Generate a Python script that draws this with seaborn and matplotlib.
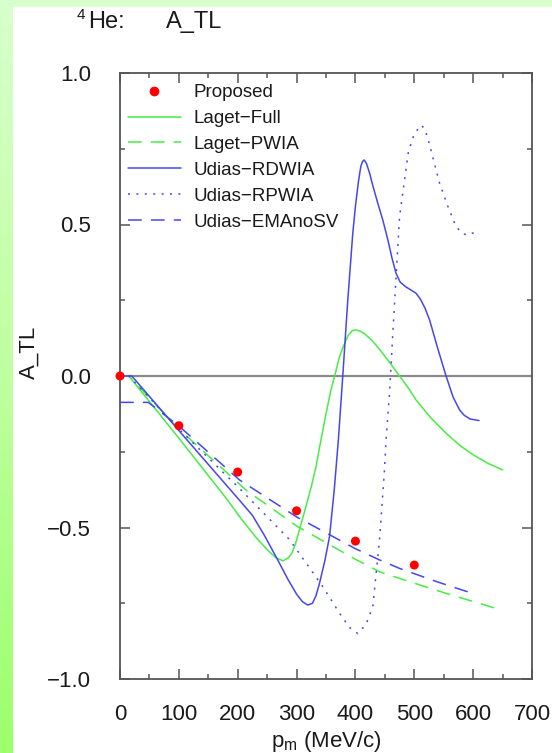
import numpy as np
import pandas as pd
import matplotlib
matplotlib.use("Agg")
import matplotlib.pyplot as plt
import seaborn as sns
from matplotlib.colors import LinearSegmentedColormap
from matplotlib.lines import Line2D

sns.set_style("white")
plt.rcParams['font.family'] = ['Liberation Sans', 'DejaVu Sans']

# ---- data ----
prop_x = [0, 100, 200, 300, 400, 500]
prop_y = [0.0, -0.164, -0.317, -0.445, -0.545, -0.624]

lfull_x = [0, 15, 100, 183, 203, 230, 250, 265, 277, 286, 292, 298, 306, 316, 325, 333,
           341, 350, 358, 366, 373, 380, 388, 395, 401, 408, 415, 428, 441, 458, 475, 490,
           503, 528, 554, 578, 600, 625, 650]
lfull_y = [0, 0, -0.205, -0.41, -0.464, -0.53, -0.573, -0.600, -0.610, -0.600, -0.585,
           -0.555, -0.50, -0.43, -0.365, -0.30, -0.215, -0.125, -0.05, 0.01, 0.064, 0.10,
           0.135, 0.15, 0.152, 0.148, 0.14, 0.118, 0.088, 0.045, 0.0, -0.04, -0.079, -0.138,
           -0.189, -0.23, -0.26, -0.288, -0.31]

lpwia_x = [0, 15, 100, 214, 300, 400, 441, 475, 550, 639, 650]
lpwia_y = [0, 0, -0.175, -0.376, -0.495, -0.605, -0.646, -0.668, -0.715, -0.767, -0.772]

rdwia_x = [0, 20, 100, 203, 225, 245, 268, 285, 300, 310, 319, 327, 333, 339, 348, 356,
           364, 371, 378.5, 387, 395.5, 400, 405, 409, 412, 415, 419, 424, 430, 438, 446.5,
           455, 462, 469, 476, 485, 495, 503, 510, 518, 526, 540, 554, 566, 577, 585, 595, 610]
rdwia_y = [0, 0, -0.18, -0.41, -0.46, -0.525, -0.607, -0.67, -0.72, -0.745, -0.756, -0.75,
           -0.725, -0.684, -0.61, -0.53, -0.376, -0.211, 0.0, 0.25, 0.471, 0.56, 0.64, 0.69,
           0.708, 0.713, 0.70, 0.67, 0.625, 0.57, 0.515, 0.45, 0.39, 0.339, 0.31, 0.295,
           0.283, 0.273, 0.255, 0.225, 0.185, 0.09, 0.0, -0.07, -0.112, -0.13, -0.142, -0.147]

rpwia_x = [0, 15, 100, 203, 288, 344.5, 373, 390, 404, 418, 429.5, 441, 449, 452, 458, 463.5,
           475, 490, 500, 511.7, 518, 525, 543, 557, 571, 582, 591, 605]
rpwia_y = [0, 0, -0.175, -0.371, -0.54, -0.695, -0.783, -0.83, -0.85, -0.82, -0.761, -0.54,
           -0.32, -0.211, -0.057, 0.141, 0.526, 0.74, 0.80, 0.828, 0.815, 0.77, 0.636, 0.56,
           0.493, 0.47, 0.465, 0.476]

ema_x = [0, 48, 100, 203, 300, 400, 441, 475, 540, 603]
ema_y = [-0.087, -0.087, -0.165, -0.343, -0.465, -0.57, -0.607, -0.635, -0.68, -0.72]

xticks = [0, 100, 200, 300, 400, 500, 600, 700]
yticks = [-1.0, -0.5, 0.0, 0.5, 1.0]
ytick_labels = ["\u22121.0", "\u22120.5", "0.0", "0.5", "1.0"]

GREEN = "#44ee44"
BLUE = "#4646ee"
TXT = "#1a1a1a"

W, H = 552, 753
fig = plt.figure(figsize=(W / 100, H / 100), dpi=100)
fig.patch.set_facecolor("white")

# background strips
top = fig.add_axes([0, 1 - 7 / H, 1, 7 / H])
top.set_axis_off()
top.add_patch(plt.Rectangle((0, 0), 1, 1, color="#d8ffcc", transform=top.transAxes))
left = fig.add_axes([0, 0, 13 / W, 1])
left.set_axis_off()
cmap = LinearSegmentedColormap.from_list("g", ["#d8ffcc", "#bfff9f", "#9cff6c"])
grad = np.linspace(0, 1, 256).reshape(-1, 1)
left.imshow(grad, aspect="auto", cmap=cmap, extent=[0, 1, 0, 1], origin="upper")

ax = fig.add_axes([120 / W, 1 - 679 / H, 412 / W, 606 / H])
ax.set_facecolor("white")

ax.axhline(0, color="#8a8a8a", lw=1.6, zorder=1)

series = [
    ("Laget\u2212Full", lfull_x, lfull_y, GREEN, "-"),
    ("Laget\u2212PWIA", lpwia_x, lpwia_y, GREEN, (0, (9, 6))),
    ("Udias\u2212RDWIA", rdwia_x, rdwia_y, BLUE, "-"),
    ("Udias\u2212RPWIA", rpwia_x, rpwia_y, BLUE, (0, (1.3, 4.2))),
    ("Udias\u2212EMAnoSV", ema_x, ema_y, BLUE, (0, (9, 6))),
]

handles = [Line2D([], [], color="red", marker="o", linestyle="none", markersize=6)]
labels = ["Proposed"]
for name, xs, ys, col, ls in series:
    df = pd.DataFrame({"x": xs, "y": ys})
    n0 = len(ax.lines)
    sns.lineplot(data=df, x="x", y="y", ax=ax, color=col, lw=1.1, sort=False,
                 estimator=None, legend=False, zorder=3)
    ax.lines[n0].set_linestyle(ls)
    handles.append(Line2D([], [], color=col, lw=1.1, linestyle=ls))
    labels.append(name)

pdf = pd.DataFrame({"x": prop_x, "y": prop_y})
sns.scatterplot(data=pdf, x="x", y="y", ax=ax, color="red", s=42, edgecolor="none",
                zorder=5, clip_on=False, legend=False)

ax.set_xlim(0, 700)
ax.set_ylim(-1.0, 1.0)
ax.set_xticks(xticks)
ax.set_xticklabels([str(t) for t in xticks])
ax.set_yticks(yticks)
ax.set_yticklabels(ytick_labels)
ax.set_xticks(np.arange(50, 700, 100), minor=True)
ax.set_yticks([-0.75, -0.25, 0.25, 0.75], minor=True)

for s in ax.spines.values():
    s.set_color("#555555")
    s.set_linewidth(1.3)
    s.set_visible(True)

ax.tick_params(which="both", direction="in", top=True, right=True, bottom=True, left=True,
               color="#555555", width=1.1, labelsize=16, labelcolor=TXT)
ax.tick_params(which="major", length=7, pad=18)
ax.tick_params(which="minor", length=3.6)
ax.tick_params(axis="y", which="major", pad=21)

ax.set_xlabel("")
ax.set_ylabel("")

fig.text(326 / W, 1 - 741 / H, r"$\mathregular{p_m}$ (MeV/c)", fontsize=16,
         ha="center", va="center", color=TXT)
fig.text(29 / W, 1 - 352 / H, "A_TL", fontsize=16, rotation=90, ha="center",
         va="center", color=TXT)
fig.text(77 / W, 1 - 15 / H, "4", fontsize=11, ha="left", va="center", color=TXT)
fig.text(88 / W, 1 - 22 / H, "He:", fontsize=17, ha="left", va="center", color=TXT)
fig.text(166 / W, 1 - 22 / H, "A_TL", fontsize=17, ha="left", va="center", color=TXT)

leg = ax.legend(handles, labels, loc="upper left", bbox_to_anchor=(128 / W, 1 - 84 / H),
                bbox_transform=fig.transFigure, frameon=False, fontsize=13.5,
                handlelength=2.8, handletextpad=0.7, labelspacing=0.47, borderpad=0,
                borderaxespad=0, numpoints=1)
for t in leg.get_texts():
    t.set_color(TXT)

fig.savefig("out.png", dpi=100, facecolor="white")
